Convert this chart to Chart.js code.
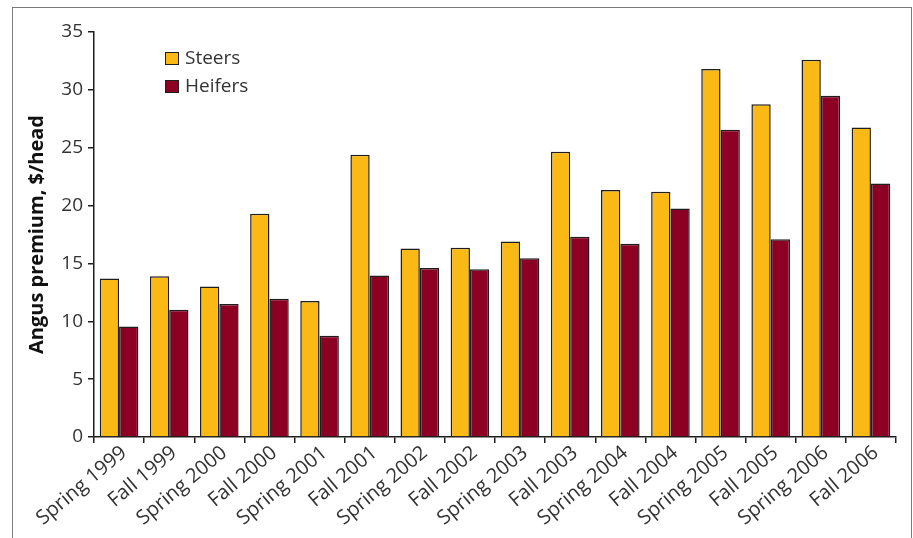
<!DOCTYPE html>
<html>
<head>
<meta charset="utf-8">
<script src="https://cdn.jsdelivr.net/npm/chart.js@4"></script>
<style>
  html, body { margin: 0; padding: 0; background: #fff; }
  #wrap { position: relative; width: 913px; height: 538px; overflow: hidden; }
  #frame { position: absolute; left: 12px; top: 7px; width: 898px; height: 600px; border: 1.5px solid #7a7a7a; }
  #chart { position: absolute; left: 0; top: 0; }
</style>
</head>
<body>
<div id="wrap">
  <div id="frame"></div>
  <canvas id="chart" width="913" height="538"></canvas>
</div>
<script>
const seasons = ["Spring 1999", "Fall 1999", "Spring 2000", "Fall 2000", "Spring 2001", "Fall 2001",
  "Spring 2002", "Fall 2002", "Spring 2003", "Fall 2003", "Spring 2004", "Fall 2004",
  "Spring 2005", "Fall 2005", "Spring 2006", "Fall 2006"];

const steers = [13.7, 13.9, 13.0, 19.3, 11.75, 24.4, 16.3, 16.35, 16.9, 24.65, 21.35, 21.2, 31.8, 28.75, 32.6, 26.75];
const heifers = [9.55, 11.0, 11.5, 11.95, 8.75, 13.95, 14.6, 14.5, 15.45, 17.3, 16.7, 19.75, 26.55, 17.1, 29.5, 21.9];

const yTicks = { min: 0, max: 35, step: 5 };

const FONT = "'Open Sans', 'Noto Sans', sans-serif";
const TXT = "#333";
const AX = "#1e1e1e";

// legend drawn inside the plot, top left
const innerLegend = {
  id: "innerLegend",
  afterDraw(chart) {
    const { ctx, chartArea } = chart;
    const x = chartArea.left + 71;
    let y = chartArea.top + 20;
    ctx.save();
    ctx.font = "19px " + FONT;
    ctx.textBaseline = "middle";
    chart.data.datasets.forEach((ds) => {
      ctx.fillStyle = ds.backgroundColor;
      ctx.fillRect(x, y, 14, 13);
      ctx.strokeStyle = AX;
      ctx.lineWidth = 1;
      ctx.strokeRect(x + 0.5, y + 0.5, 13, 12);
      ctx.fillStyle = TXT;
      ctx.fillText(ds.label, x + 20, y + 6.5);
      y += 28;
    });
    ctx.restore();
  },
};

new Chart(document.getElementById("chart"), {
  type: "bar",
  data: {
    labels: seasons,
    datasets: [
      {
        label: "Steers",
        data: steers,
        backgroundColor: "#FBB916",
        borderColor: AX,
        borderWidth: 1.5,
      },
      {
        label: "Heifers",
        data: heifers,
        backgroundColor: "#8C0024",
        borderColor: AX,
        borderWidth: 1.5,
      },
    ],
  },
  options: {
    responsive: false,
    animation: false,
    layout: { padding: { left: 0, top: 32, right: 17, bottom: 0 } },
    datasets: { bar: { categoryPercentage: 0.77, barPercentage: 1.0 } },
    plugins: { legend: { display: false }, tooltip: { enabled: false } },
    scales: {
      x: {
        grid: { display: true, drawOnChartArea: false, drawTicks: true, tickLength: 6, color: AX, lineWidth: 1.5 },
        border: { display: true, color: AX, width: 1.5 },
        ticks: {
          color: TXT,
          font: { family: FONT, size: 20 },
          minRotation: 40,
          maxRotation: 40,
          padding: -2,
          labelOffset: 5,
        },
        afterFit(scale) { scale.height = 101; },
      },
      y: {
        min: yTicks.min,
        max: yTicks.max,
        grid: { display: true, drawOnChartArea: false, drawTicks: true, tickLength: 6, color: AX, lineWidth: 1.5 },
        border: { display: true, color: AX, width: 1.5 },
        ticks: {
          stepSize: yTicks.step,
          color: TXT,
          font: { family: FONT, size: 19 },
          padding: 5,
        },
        title: {
          display: true,
          text: "Angus premium, $/head",
          color: "#111",
          font: { family: FONT, size: 20, weight: "bold" },
          padding: { top: 25, bottom: 0 },
        },
        afterFit(scale) { scale.width = 94; },
      },
    },
  },
  plugins: [innerLegend],
});
</script>
</body>
</html>
